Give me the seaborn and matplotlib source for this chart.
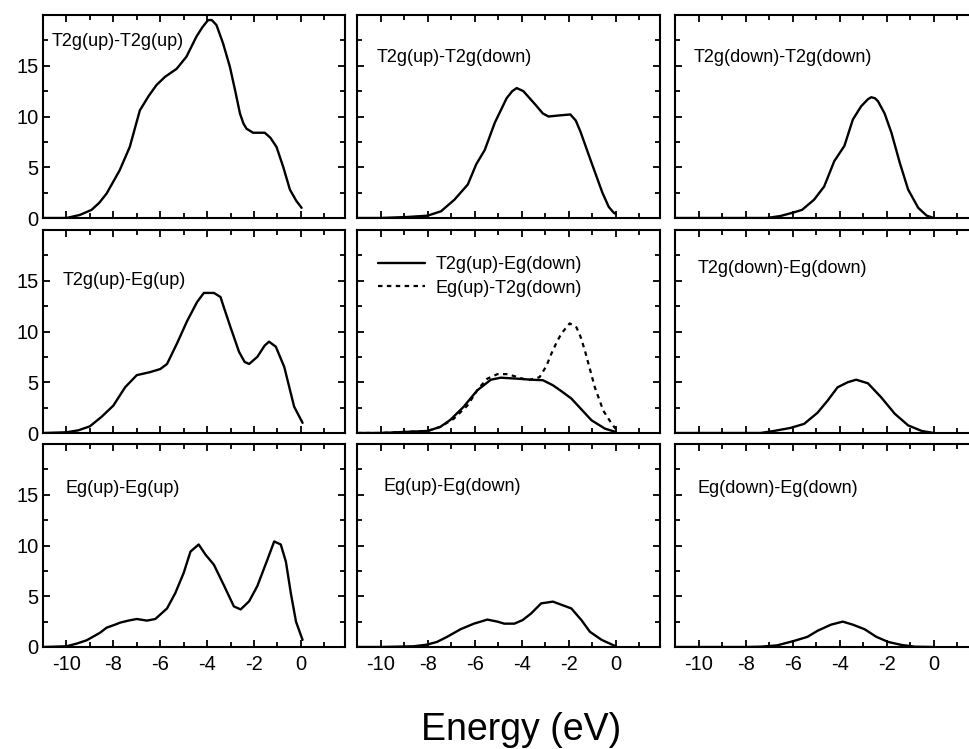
import numpy as np
import matplotlib
matplotlib.use("Agg")
import matplotlib.pyplot as plt
import seaborn as sns
from matplotlib.ticker import MultipleLocator

# ---------------- data ----------------
labels = ["T2g(up)-T2g(up)", "T2g(up)-T2g(down)", "T2g(down)-T2g(down)",
          "T2g(up)-Eg(up)", "", "T2g(down)-Eg(down)",
          "Eg(up)-Eg(up)", "Eg(up)-Eg(down)", "Eg(down)-Eg(down)"]
legend_labels = ["T2g(up)-Eg(down)", "Eg(up)-T2g(down)"]

e_p1 = [-11, -10, -9.43, -8.93, -8.6, -8.29, -7.73, -7.3, -6.87, -6.5, -6.16, -5.8, -5.3, -4.88, -4.45, -4.2, -3.96, -3.8, -3.6, -3.32, -3.03, -2.8, -2.6, -2.45, -2.32, -2.04, -1.54, -1.3, -1.04, -0.75, -0.47, -0.2, 0.03]
v_p1 = [0, 0, 0.3, 0.8, 1.5, 2.4, 4.7, 7.0, 10.6, 12.0, 13.1, 13.9, 14.7, 15.9, 17.9, 18.8, 19.5, 19.5, 19.0, 17.2, 14.9, 12.5, 10.3, 9.3, 8.8, 8.4, 8.4, 7.9, 7.0, 5.0, 2.8, 1.7, 1.0]

e_p2 = [-11, -10, -8.86, -8.0, -7.43, -6.86, -6.29, -5.93, -5.57, -5.14, -4.64, -4.4, -4.21, -3.93, -3.43, -3.1, -2.86, -2.43, -1.93, -1.7, -1.5, -1.07, -0.57, -0.3, -0.1, 0.0]
v_p2 = [0, 0, 0.1, 0.23, 0.66, 1.8, 3.3, 5.3, 6.7, 9.4, 11.8, 12.5, 12.8, 12.5, 11.2, 10.3, 10.0, 10.1, 10.2, 9.6, 8.5, 5.7, 2.5, 1.1, 0.55, 0.4]

e_p3 = [-11, -8, -7.09, -6.51, -5.94, -5.6, -5.09, -4.66, -4.23, -3.8, -3.44, -3.09, -2.8, -2.66, -2.5, -2.37, -2.09, -1.8, -1.44, -1.09, -0.66, -0.3, 0]
v_p3 = [0, 0, 0, 0.2, 0.56, 0.8, 1.8, 3.1, 5.6, 7.1, 9.7, 11.0, 11.7, 11.9, 11.8, 11.5, 10.3, 8.4, 5.4, 2.8, 1.0, 0.23, 0]

e_p4 = [-11, -10, -9.5, -9.0, -8.5, -8.0, -7.5, -7.0, -6.43, -6.0, -5.71, -5.29, -4.86, -4.43, -4.14, -3.71, -3.43, -3.29, -3.0, -2.64, -2.4, -2.21, -1.86, -1.55, -1.36, -1.07, -0.71, -0.29, 0.07]
v_p4 = [0, 0.07, 0.26, 0.66, 1.6, 2.7, 4.5, 5.7, 6.0, 6.3, 6.8, 8.8, 11.0, 12.9, 13.8, 13.8, 13.4, 12.4, 10.4, 8.0, 7.0, 6.8, 7.5, 8.6, 9.0, 8.5, 6.5, 2.6, 1.0]

e_p5a = [-11, -10, -8.0, -7.46, -7.03, -6.46, -5.89, -5.31, -4.89, -4.17, -3.6, -3.1, -2.67, -2.3, -1.89, -1.45, -1.03, -0.46, 0]
v_p5a = [0, 0, 0.2, 0.6, 1.3, 2.6, 4.2, 5.25, 5.45, 5.35, 5.25, 5.2, 4.7, 4.1, 3.4, 2.3, 1.25, 0.43, 0.1]

e_p5b = [-11, -10, -8.0, -7.46, -6.89, -6.31, -5.83, -5.46, -5.03, -4.6, -4.17, -3.74, -3.24, -2.95, -2.74, -2.5, -2.31, -1.96, -1.67, -1.5, -1.31, -0.89, -0.53, -0.17, 0]
v_p5b = [0, 0, 0.2, 0.6, 1.4, 2.7, 4.4, 5.35, 5.8, 5.8, 5.5, 5.2, 5.5, 6.6, 7.8, 9.0, 9.8, 10.8, 10.4, 9.5, 8.1, 4.5, 2.2, 0.9, 0.4]

e_p6 = [-11, -8, -7.37, -6.8, -6.09, -5.51, -4.94, -4.51, -4.09, -3.66, -3.3, -2.8, -2.23, -1.66, -1.09, -0.51, 0]
v_p6 = [0, 0, 0, 0.2, 0.5, 0.9, 2.0, 3.2, 4.5, 5.0, 5.25, 4.9, 3.5, 1.9, 0.75, 0.2, 0]

e_p7 = [-11, -10, -9.57, -9.14, -8.57, -8.29, -7.93, -7.71, -7.36, -7.0, -6.57, -6.21, -5.71, -5.36, -5.0, -4.71, -4.36, -4.07, -3.71, -3.29, -2.86, -2.57, -2.21, -1.86, -1.43, -1.14, -0.86, -0.64, -0.43, -0.21, 0.07]
v_p7 = [0, 0.07, 0.33, 0.66, 1.4, 1.9, 2.2, 2.4, 2.6, 2.76, 2.6, 2.76, 3.8, 5.3, 7.3, 9.4, 10.1, 9.1, 8.1, 6.1, 4.0, 3.7, 4.5, 6.0, 8.6, 10.4, 10.1, 8.4, 5.3, 2.5, 0.7]

e_p8 = [-11, -10, -8.6, -8.03, -7.6, -7.17, -6.6, -6.03, -5.46, -5.03, -4.74, -4.31, -3.96, -3.6, -3.17, -2.67, -2.24, -1.89, -1.46, -1.1, -0.6, 0]
v_p8 = [0, 0, 0.07, 0.23, 0.5, 1.0, 1.75, 2.3, 2.7, 2.5, 2.3, 2.3, 2.65, 3.3, 4.3, 4.47, 4.1, 3.8, 2.65, 1.5, 0.7, 0.07]

e_p9 = [-11, -8, -7.37, -6.66, -5.94, -5.37, -4.94, -4.37, -3.87, -3.44, -2.94, -2.44, -1.94, -1.37, -0.8, 0]
v_p9 = [0, 0, 0.03, 0.16, 0.6, 1.0, 1.6, 2.2, 2.5, 2.2, 1.75, 1.0, 0.5, 0.2, 0.03, 0]

x_ticks = [-10, -8, -6, -4, -2, 0]
y_ticks = [0, 5, 10, 15]
x_label = "Energy (eV)"

# ---------------- style ----------------
sns.set_theme(style="white")
plt.rcParams["font.family"] = ["Liberation Sans", "DejaVu Sans"]
plt.rcParams["axes.unicode_minus"] = False
plt.rcParams["text.color"] = "black"
plt.rcParams["axes.linewidth"] = 1.5

W, H = 969, 749
fig = plt.figure(figsize=(W / 100, H / 100), dpi=100)

col_left = [43, 357, 675]
col_w = [302, 303, 303]
row_top = [15, 230, 444]
row_h = 203

label_pos = [(0.03, 0.867), (0.065, 0.79), (0.06, 0.79),
             (0.066, 0.75), None, (0.076, 0.81),
             (0.073, 0.78), (0.089, 0.79), (0.073, 0.78)]

series = [(e_p1, v_p1), (e_p2, v_p2), (e_p3, v_p3),
          (e_p4, v_p4), None, (e_p6, v_p6),
          (e_p7, v_p7), (e_p8, v_p8), (e_p9, v_p9)]

line_kw = dict(color="black", lw=1.7, solid_joinstyle="round",
               solid_capstyle="round")

for i in range(9):
    r, c = divmod(i, 3)
    ax = fig.add_axes([col_left[c] / W, 1 - (row_top[r] + row_h) / H,
                       col_w[c] / W, row_h / H])
    if i == 4:
        sns.lineplot(x=e_p5a, y=v_p5a, ax=ax, label=legend_labels[0], **line_kw)
        sns.lineplot(x=e_p5b, y=v_p5b, ax=ax, color="black", lw=1.6,
                     linestyle=(0, (2, 2)), label=legend_labels[1])
        leg = ax.legend(loc="upper left", bbox_to_anchor=(0.07, 0.87),
                        frameon=False, fontsize=13, handlelength=2.6,
                        handletextpad=0.6, labelspacing=0.35, borderpad=0,
                        borderaxespad=0)
        for t in leg.get_texts():
            t.set_color("black")
    else:
        ex, vy = series[i]
        sns.lineplot(x=ex, y=vy, ax=ax, **line_kw)
        lx, ly = label_pos[i]
        ax.text(lx, ly, labels[i], transform=ax.transAxes, fontsize=13,
                ha="left", va="center", color="black")
    ax.set_xlim(-11, 1.88)
    ax.set_ylim(0, 20)
    ax.set_xticks(x_ticks)
    ax.set_yticks(y_ticks)
    ax.xaxis.set_minor_locator(MultipleLocator(1))
    ax.yaxis.set_minor_locator(MultipleLocator(2.5))
    ax.tick_params(which="both", direction="in", top=True, right=True,
                   bottom=True, left=True, color="black", width=1.3)
    ax.tick_params(which="major", length=5)
    ax.tick_params(which="minor", length=3.5)
    ax.tick_params(axis="x", labelsize=14.5, pad=6, labelcolor="black")
    ax.tick_params(axis="y", labelsize=14.5, pad=3, labelcolor="black")
    if r != 2:
        ax.set_xticklabels([])
    if c != 0:
        ax.set_yticklabels([])
    ax.set_xlabel("")
    ax.set_ylabel("")
    for s in ax.spines.values():
        s.set_color("black")
        s.set_linewidth(1.5)

fig.text(0.538, 1 - 740 / H, x_label, fontsize=27, ha="center",
         va="baseline", color="black")

fig.savefig("out.png", dpi=100, facecolor="white")
